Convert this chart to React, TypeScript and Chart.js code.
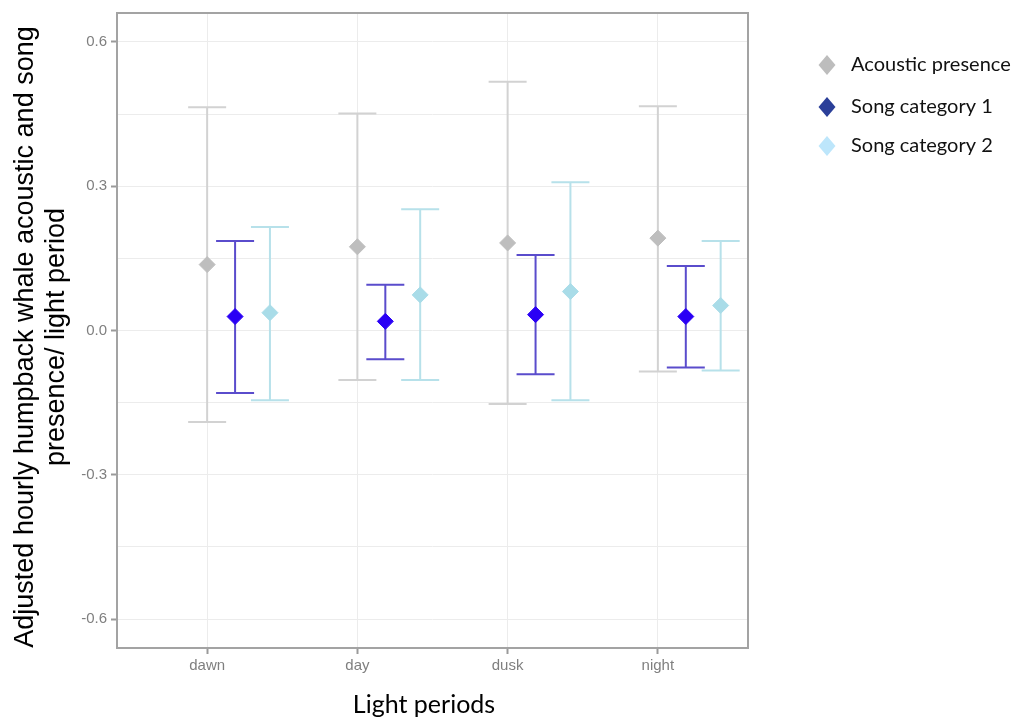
import React, { useEffect, useRef } from "react";
import { Chart, registerables } from "chart.js";

Chart.register(...registerables);

const categories = ["dawn", "day", "dusk", "night"];
const seriesNames = ["Acoustic presence", "Song category 1", "Song category 2"];

const acousticMean = [0.137, 0.174, 0.182, 0.192];
const acousticLow = [-0.19, -0.103, -0.153, -0.085];
const acousticHigh = [0.464, 0.451, 0.517, 0.466];

const song1Mean = [0.029, 0.019, 0.033, 0.029];
const song1Low = [-0.13, -0.06, -0.091, -0.077];
const song1High = [0.186, 0.095, 0.157, 0.134];

const song2Mean = [0.037, 0.074, 0.081, 0.052];
const song2Low = [-0.145, -0.103, -0.145, -0.083];
const song2High = [0.215, 0.252, 0.308, 0.186];

const yTickValues = [-0.6, -0.45, -0.3, -0.15, 0, 0.15, 0.3, 0.45, 0.6];
const yMajorTicks = [-0.6, -0.3, 0, 0.3, 0.6];

// styling
const dodge = [0, 0.186, 0.418];
const pointColors = ["#bebebe", "#2a00f5", "#a9dce8"];
const barColors = ["#d2d2d2", "#5a4ccc", "#b7e1ea"];
const legendColors = ["#bdbdbd", "#2b3f99", "#bde6fb"];

const errorBarPlugin = {
  id: "errorBars",
  beforeDatasetsDraw(chart: any) {
    const ctx = chart.ctx;
    const xs = chart.scales.x;
    const ys = chart.scales.y;
    chart.data.datasets.forEach((ds: any) => {
      ctx.save();
      ctx.strokeStyle = ds.barColor;
      ctx.lineWidth = 2;
      ds.data.forEach((pt: any, j: number) => {
        const x = xs.getPixelForValue(pt.x);
        const y1 = ys.getPixelForValue(ds.errLow[j]);
        const y2 = ys.getPixelForValue(ds.errHigh[j]);
        const hw = 19;
        ctx.beginPath();
        ctx.moveTo(x, y1);
        ctx.lineTo(x, y2);
        ctx.moveTo(x - hw, y1);
        ctx.lineTo(x + hw, y1);
        ctx.moveTo(x - hw, y2);
        ctx.lineTo(x + hw, y2);
        ctx.stroke();
      });
      ctx.restore();
    });
  },
  afterDraw(chart: any) {
    const ctx = chart.ctx;
    const a = chart.chartArea;
    ctx.save();
    // panel border
    ctx.strokeStyle = "#a3a3a3";
    ctx.lineWidth = 2;
    ctx.strokeRect(a.left, a.top, a.right - a.left, a.bottom - a.top);

    // y title
    ctx.fillStyle = "#000";
    ctx.font = '27px "Liberation Sans", Arial, sans-serif';
    ctx.textAlign = "center";
    ctx.textBaseline = "alphabetic";
    const lines = ["Adjusted hourly humpback whale acoustic and song", "presence/ light period"];
    const bx = [33, 64];
    lines.forEach((t, k) => {
      ctx.save();
      ctx.translate(bx[k], 337);
      ctx.rotate(-Math.PI / 2);
      ctx.fillText(t, 0, 0);
      ctx.restore();
    });

    // x title
    ctx.font = '25px Lato, "Open Sans", sans-serif';
    ctx.fillText("Light periods", 424, 713);

    // legend
    const ly = [65, 107, 146];
    seriesNames.forEach((name, k) => {
      const cx = 827;
      const cy = ly[k];
      ctx.fillStyle = legendColors[k];
      ctx.beginPath();
      ctx.moveTo(cx, cy - 10);
      ctx.lineTo(cx + 8.5, cy);
      ctx.lineTo(cx, cy + 10);
      ctx.lineTo(cx - 8.5, cy);
      ctx.closePath();
      ctx.fill();
      ctx.fillStyle = "#111";
      ctx.font = '20px Lato, "Open Sans", sans-serif';
      ctx.textAlign = "left";
      ctx.textBaseline = "middle";
      ctx.fillText(name, 851, cy);
    });
    ctx.restore();
  },
};

export default function App() {
  const ref = useRef<HTMLCanvasElement | null>(null);

  useEffect(() => {
    document.body.style.margin = "0";
    const means = [acousticMean, song1Mean, song2Mean];
    const lows = [acousticLow, song1Low, song2Low];
    const highs = [acousticHigh, song1High, song2High];
    const datasets = seriesNames.map((name, i) => ({
      label: name,
      data: means[i].map((v, j) => ({ x: j + 1 + dodge[i], y: v })),
      errLow: lows[i],
      errHigh: highs[i],
      barColor: barColors[i],
      pointStyle: "rectRot",
      pointRadius: 8,
      pointHoverRadius: 8,
      backgroundColor: pointColors[i],
      borderColor: pointColors[i],
      borderWidth: 1,
      showLine: false,
    }));
    const chart = new Chart(ref.current as HTMLCanvasElement, {
      type: "scatter",
      data: { datasets } as any,
      plugins: [errorBarPlugin],
      options: {
        animation: false,
        responsive: false,
        devicePixelRatio: 1,
        layout: { padding: { top: 10, right: 268, left: 0, bottom: 0 } },
        plugins: { legend: { display: false }, title: { display: false }, tooltip: { enabled: false } },
        scales: {
          x: {
            type: "linear",
            min: 0.4,
            max: 4.6,
            afterBuildTicks: (s: any) => {
              s.ticks = categories.map((_, i) => ({ value: i + 1 }));
            },
            afterFit: (s: any) => {
              s.height = 70;
            },
            ticks: {
              callback: (v: any) => categories[Math.round(v) - 1] ?? "",
              color: "#7f7f7f",
              font: { family: '"Liberation Sans", Arial, sans-serif', size: 15 },
              padding: 3,
              maxRotation: 0,
            },
            grid: { color: "#ececec", lineWidth: 1, tickLength: 6, tickColor: "#9a9a9a", tickWidth: 2 },
            border: { display: false },
          },
          y: {
            type: "linear",
            min: -0.66,
            max: 0.66,
            afterBuildTicks: (s: any) => {
              s.ticks = yTickValues.map((v) => ({ value: v }));
            },
            afterFit: (s: any) => {
              s.width = 117;
            },
            ticks: {
              callback: (v: any) => (yMajorTicks.some((m) => Math.abs(m - v) < 1e-6) ? Number(v).toFixed(1) : ""),
              color: "#7f7f7f",
              font: { family: '"Liberation Sans", Arial, sans-serif', size: 15 },
              padding: 4,
            },
            grid: {
              color: "#ececec",
              lineWidth: 1,
              tickLength: 6,
              tickWidth: 2,
              tickColor: (c: any) =>
                c.tick && yMajorTicks.some((m) => Math.abs(m - c.tick.value) < 1e-6) ? "#9a9a9a" : "rgba(0,0,0,0)",
            },
            border: { display: false },
          },
        },
      } as any,
    });
    return () => chart.destroy();
  }, []);

  return (
    <div style={{ position: "absolute", left: 0, top: 0, width: 1016, height: 718, background: "#fff" }}>
      <canvas ref={ref} width={1016} height={718} />
    </div>
  );
}
